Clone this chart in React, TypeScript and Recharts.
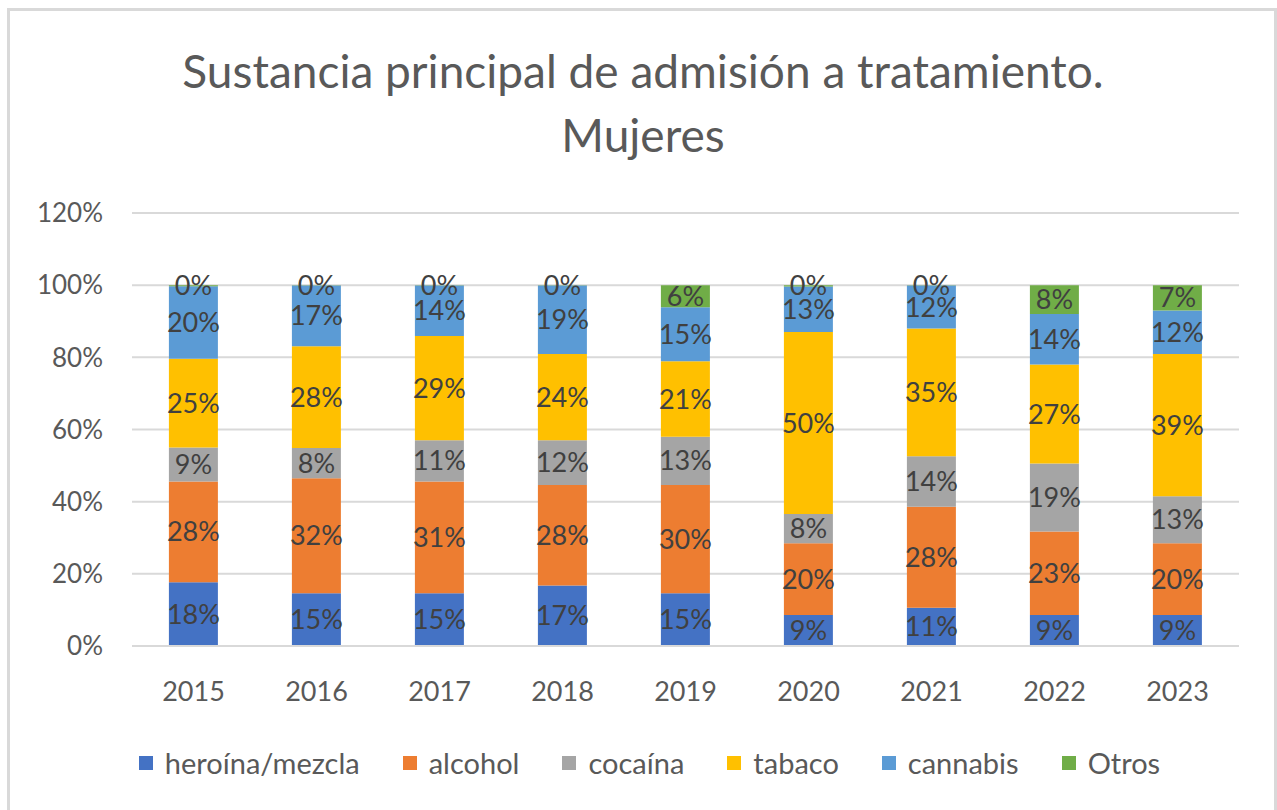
import React from 'react';
import { BarChart, Bar, XAxis, YAxis, CartesianGrid, LabelList, Legend } from 'recharts';

const years = ['2015', '2016', '2017', '2018', '2019', '2020', '2021', '2022', '2023'];
const heroina = [17.7, 14.6, 14.6, 16.8, 14.6, 8.6, 10.6, 8.6, 8.6];
const alcohol = [27.9, 31.9, 31.0, 27.8, 30.0, 19.9, 28.0, 23.1, 19.9];
const cocaina = [9.4, 8.4, 11.4, 12.4, 13.4, 8.1, 14.0, 18.9, 13.0];
const tabaco = [24.6, 28.2, 28.9, 23.9, 20.9, 50.4, 35.4, 27.4, 39.4];
const cannabis = [20.1, 16.8, 14.0, 19.0, 15.0, 12.6, 11.9, 14.0, 12.1];
const otros = [0.3, 0.1, 0.1, 0.1, 6.1, 0.4, 0.1, 8.0, 7.0];
const yTicks = [0, 20, 40, 60, 80, 100, 120];
const boundaryTicks = [0, 1, 2, 3, 4, 5, 6, 7, 8, 9];

const seriesNames = ['heroína/mezcla', 'alcohol', 'cocaína', 'tabaco', 'cannabis', 'Otros'];
const seriesKeys = ['heroina', 'alcohol', 'cocaina', 'tabaco', 'cannabis', 'otros'];
const seriesColors = ['#4472C4', '#ED7D31', '#A5A5A5', '#FFC000', '#5B9BD5', '#70AD47'];
const seriesValues = [heroina, alcohol, cocaina, tabaco, cannabis, otros];

const data = years.map((y, i) => {
  const row: any = { year: y };
  seriesKeys.forEach((k, s) => {
    row[k] = seriesValues[s][i];
  });
  return row;
});

const FONT = 'Lato, "Open Sans", sans-serif';

const renderLegend = (props: any) => {
  const payload = [...(props.payload || [])].sort(
    (a: any, b: any) => seriesNames.indexOf(a.value) - seriesNames.indexOf(b.value)
  );
  return (
    <div
      style={{
        display: 'flex',
        justifyContent: 'center',
        alignItems: 'center',
        gap: 43,
        paddingLeft: 22,
        fontFamily: FONT,
        fontSize: 29,
        color: '#595959',
        whiteSpace: 'nowrap',
      }}
    >
      {payload.map((p: any) => (
        <div key={p.value} style={{ display: 'flex', alignItems: 'center' }}>
          <span style={{ display: 'inline-block', width: 14, height: 14, background: p.color, marginRight: 12 }} />
          <span>{p.value}</span>
        </div>
      ))}
    </div>
  );
};

export default function App() {
  return (
    <div style={{ position: 'absolute', left: 0, top: 0, width: 1277, height: 810, background: '#fff', overflow: 'hidden' }}>
      <div
        style={{
          position: 'absolute',
          left: 7,
          top: 8,
          width: 1270,
          height: 820,
          border: '3px solid #d9d9d9',
          boxSizing: 'border-box',
        }}
      />
      <svg style={{ position: 'absolute', left: 0, top: 0 }} width={1277} height={200}>
        <text x={643} y={88} textAnchor="middle" fontFamily={FONT} fontWeight={400} fontSize={46} fill="#595959">
          Sustancia principal de admisión a tratamiento.
        </text>
        <text x={643} y={152} textAnchor="middle" fontFamily={FONT} fontWeight={400} fontSize={46} fill="#595959">
          Mujeres
        </text>
      </svg>
      <div style={{ position: 'absolute', left: 0, top: 0 }}>
        <BarChart
          width={1277}
          height={810}
          data={data}
          margin={{ top: 213, right: 38, bottom: 104, left: 0 }}
          barCategoryGap="30%"
        >
          <CartesianGrid vertical={false} stroke="#d9d9d9" strokeWidth={2} />
          <XAxis
            xAxisId="bounds"
            type="number"
            domain={[0, 9]}
            ticks={boundaryTicks}
            tick={false}
            tickSize={10}
            tickLine={{ stroke: '#d9d9d9', strokeWidth: 2 }}
            axisLine={false}
            height={0}
          />
          <XAxis
            dataKey="year"
            height={60}
            tickLine={false}
            tickSize={0}
            tickMargin={36}
            axisLine={{ stroke: '#d9d9d9', strokeWidth: 2 }}
            tick={{ fontFamily: FONT, fontSize: 27, fill: '#595959' }}
          />
          <YAxis
            domain={[0, 120]}
            ticks={yTicks}
            width={132}
            tickLine={false}
            tickSize={0}
            tickMargin={29}
            axisLine={false}
            tickFormatter={(v: number) => `${v}%`}
            tick={{ fontFamily: FONT, fontSize: 26, fill: '#595959' }}
          />
          <Legend
            content={renderLegend}
            layout="horizontal"
            verticalAlign="middle"
            align="center"
            wrapperStyle={{ position: 'absolute', left: 0, top: 745, width: 1277 }}
          />
          {seriesKeys.map((k, s) => (
            <Bar
              key={k}
              dataKey={k}
              name={seriesNames[s]}
              stackId="a"
              fill={seriesColors[s]}
              isAnimationActive={false}
            >
              <LabelList
                dataKey={k}
                position="center"
                formatter={(v: any) => `${Math.round(Number(v))}%`}
                style={{ fontFamily: FONT, fontSize: 27, fill: '#404040' }}
              />
            </Bar>
          ))}
        </BarChart>
      </div>
    </div>
  );
}
